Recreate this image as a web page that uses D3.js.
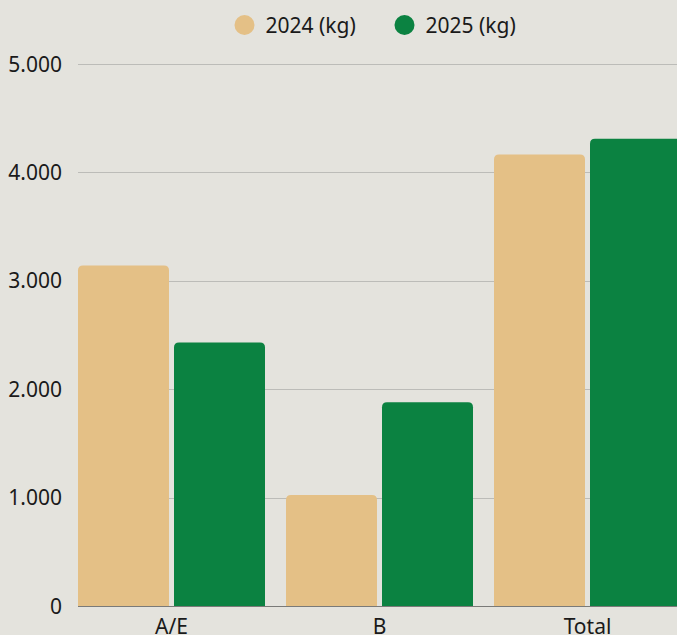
<!DOCTYPE html>
<html>
<head>
<meta charset="utf-8">
<script src="https://cdn.jsdelivr.net/npm/d3@7"></script>
<style>
    html, body { margin: 0; padding: 0; background: #e4e3dd; overflow: hidden; }
    svg { display: block; font-family: "Noto Sans", sans-serif; }
</style>
</head>
<body>
<script>
'use strict';

// chart data
const categories = ["A/E", "B", "Total"];
const seriesNames = ["2024 (kg)", "2025 (kg)"];
const values2024 = [3140, 1025, 4165];
const values2025 = [2430, 1880, 4310];
const yTicks = [0, 1000, 2000, 3000, 4000, 5000];

const colors = ["#e4c086", "#0b8241"];

const width = 677, height = 635;

const svg = d3.select("body").append("svg")
    .attr("width", width)
    .attr("height", height);

// scales
const x0 = d3.scaleBand()
    .domain(categories)
    .range([78, 681])
    .paddingInner(21 / 208)
    .paddingOuter(0);

const x1 = d3.scaleBand()
    .domain(seriesNames)
    .range([0, x0.bandwidth()])
    .paddingInner(5 / 96)
    .paddingOuter(0);

const y = d3.scaleLinear()
    .domain([0, 5000])
    .range([606, 64]);

// german number format, e.g. 5.000
const fmt = d3.formatLocale({ decimal: ",", thousands: ".", grouping: [3], currency: ["", "€"] }).format(",d");

// gridlines
svg.append("g")
    .selectAll("line")
    .data(yTicks.filter(d => d > 0))
    .join("line")
    .attr("x1", 78)
    .attr("x2", width)
    .attr("y1", d => Math.round(y(d)) + 0.5)
    .attr("y2", d => Math.round(y(d)) + 0.5)
    .attr("stroke", "#bcbcb8")
    .attr("stroke-width", 1);

// baseline
svg.append("line")
    .attr("x1", 78)
    .attr("x2", width)
    .attr("y1", y(0) + 0.5)
    .attr("y2", y(0) + 0.5)
    .attr("stroke", "#7a7a78")
    .attr("stroke-width", 1);

// y labels
svg.append("g")
    .selectAll("text")
    .data(yTicks)
    .join("text")
    .attr("x", 62)
    .attr("y", d => y(d))
    .attr("dy", "0.36em")
    .attr("text-anchor", "end")
    .style("font-size", "21px")
    .attr("fill", "#1a1a1a")
    .text(d => fmt(d));

// rounded top bar path
function barPath(x, yTop, w, yBottom, r) {
    r = Math.min(r, (yBottom - yTop), w / 2);
    return "M" + x + "," + yBottom +
        "V" + (yTop + r) +
        "Q" + x + "," + yTop + " " + (x + r) + "," + yTop +
        "H" + (x + w - r) +
        "Q" + (x + w) + "," + yTop + " " + (x + w) + "," + (yTop + r) +
        "V" + yBottom + "Z";
}

const rows = categories.map((c, i) => ({
    cat: c,
    vals: [values2024[i], values2025[i]]
}));

const groups = svg.append("g")
    .selectAll("g")
    .data(rows)
    .join("g")
    .attr("transform", d => "translate(" + x0(d.cat) + ",0)");

groups.selectAll("path")
    .data(d => d.vals.map((v, i) => ({ key: seriesNames[i], v: v, i: i })))
    .join("path")
    .attr("d", d => barPath(x1(d.key), y(d.v), x1.bandwidth(), y(0), 5))
    .attr("fill", d => colors[d.i]);

// x labels
svg.append("g")
    .selectAll("text")
    .data(categories)
    .join("text")
    .attr("x", d => x0(d) + x0.bandwidth() / 2)
    .attr("y", 634)
    .attr("text-anchor", "middle")
    .style("font-size", "21px")
    .attr("fill", "#1a1a1a")
    .text(d => d);

// legend
const legendX = [244.5, 404.5];
const legend = svg.append("g")
    .selectAll("g")
    .data(seriesNames)
    .join("g")
    .attr("transform", (d, i) => "translate(" + legendX[i] + ",25)");

legend.append("circle")
    .attr("r", 10)
    .attr("fill", (d, i) => colors[i]);

legend.append("text")
    .attr("x", 21)
    .attr("dy", "0.36em")
    .style("font-size", "21px")
    .attr("fill", "#1a1a1a")
    .text(d => d);
</script>
</body>
</html>
